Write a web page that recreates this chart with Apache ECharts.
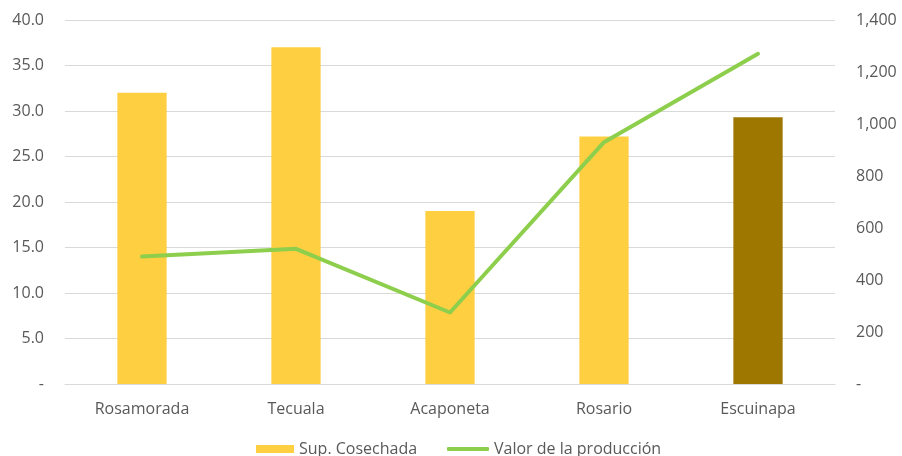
<!DOCTYPE html>
<html>
<head>
<meta charset="utf-8">
<script src="https://cdn.jsdelivr.net/npm/echarts@6/dist/echarts.min.js"></script>
<style>html,body{margin:0;padding:0;background:#fff}#c{width:902px;height:456px}</style>
</head>
<body>
<div id="c"></div>
<script>
var categories = ['Rosamorada', 'Tecuala', 'Acaponeta', 'Rosario', 'Escuinapa'];
var supCosechada = [32.0, 37.0, 19.0, 27.2, 29.3];
var valorProduccion = [490, 520, 275, 930, 1270];
var seriesNames = ['Sup. Cosechada', 'Valor de la producción'];

var FONT = '"Open Sans", sans-serif';
var GRAY = '#595959';
var YELLOW = '#FDCF41';
var GREEN = '#8DCF4C';
var chart = echarts.init(document.getElementById('c'));
var legendText = { color: GRAY, fontSize: 16, fontFamily: FONT };
chart.setOption({
  animation: false,
  grid: { left: 65, right: 67, top: 20, bottom: 72, containLabel: false },
  legend: [
    {
      left: 256, top: 441, padding: 0,
      itemWidth: 38, itemHeight: 8, itemGap: 0,
      textStyle: legendText,
      data: [{ name: seriesNames[0], icon: 'rect' }]
    },
    {
      left: 447, top: 441, padding: 0,
      itemWidth: 42, itemHeight: 4, itemGap: 0,
      textStyle: legendText,
      data: [{ name: seriesNames[1], icon: 'roundRect', itemStyle: { color: GREEN } }]
    }
  ],
  xAxis: {
    type: 'category',
    data: categories,
    axisLine: { show: true, lineStyle: { color: '#D9D9D9', width: 1 } },
    axisTick: { show: false },
    axisLabel: { color: GRAY, fontSize: 16, fontFamily: FONT, margin: 17 }
  },
  yAxis: [
    {
      type: 'value', min: 0, max: 40, interval: 5,
      axisLine: { show: false }, axisTick: { show: false },
      splitLine: { lineStyle: { color: '#D9D9D9', width: 1 } },
      axisLabel: {
        color: GRAY, fontSize: 16, fontFamily: FONT, margin: 21, padding: [4, 0, 0, 0],
        formatter: function (v) { return v === 0 ? '-' : v.toFixed(1); }
      }
    },
    {
      type: 'value', min: 0, max: 1400, interval: 200,
      axisLine: { show: false }, axisTick: { show: false },
      splitLine: { show: false },
      axisLabel: {
        color: GRAY, fontSize: 16, fontFamily: FONT, margin: 21, padding: [4, 0, 0, 0],
        formatter: function (v) { return v === 0 ? '-' : v.toLocaleString('en-US'); }
      }
    }
  ],
  series: [
    {
      name: seriesNames[0],
      type: 'bar',
      yAxisIndex: 0,
      barWidth: '32%',
      itemStyle: { color: YELLOW },
      data: supCosechada.map(function (v, i) {
        return i === 4 ? { value: v, itemStyle: { color: '#9E7700' } } : v;
      })
    },
    {
      name: seriesNames[1],
      type: 'line',
      yAxisIndex: 1,
      symbol: 'none',
      lineStyle: { color: GREEN, width: 4, cap: 'round', join: 'round' },
      itemStyle: { color: GREEN },
      data: valorProduccion
    }
  ]
});
</script>
</body>
</html>
